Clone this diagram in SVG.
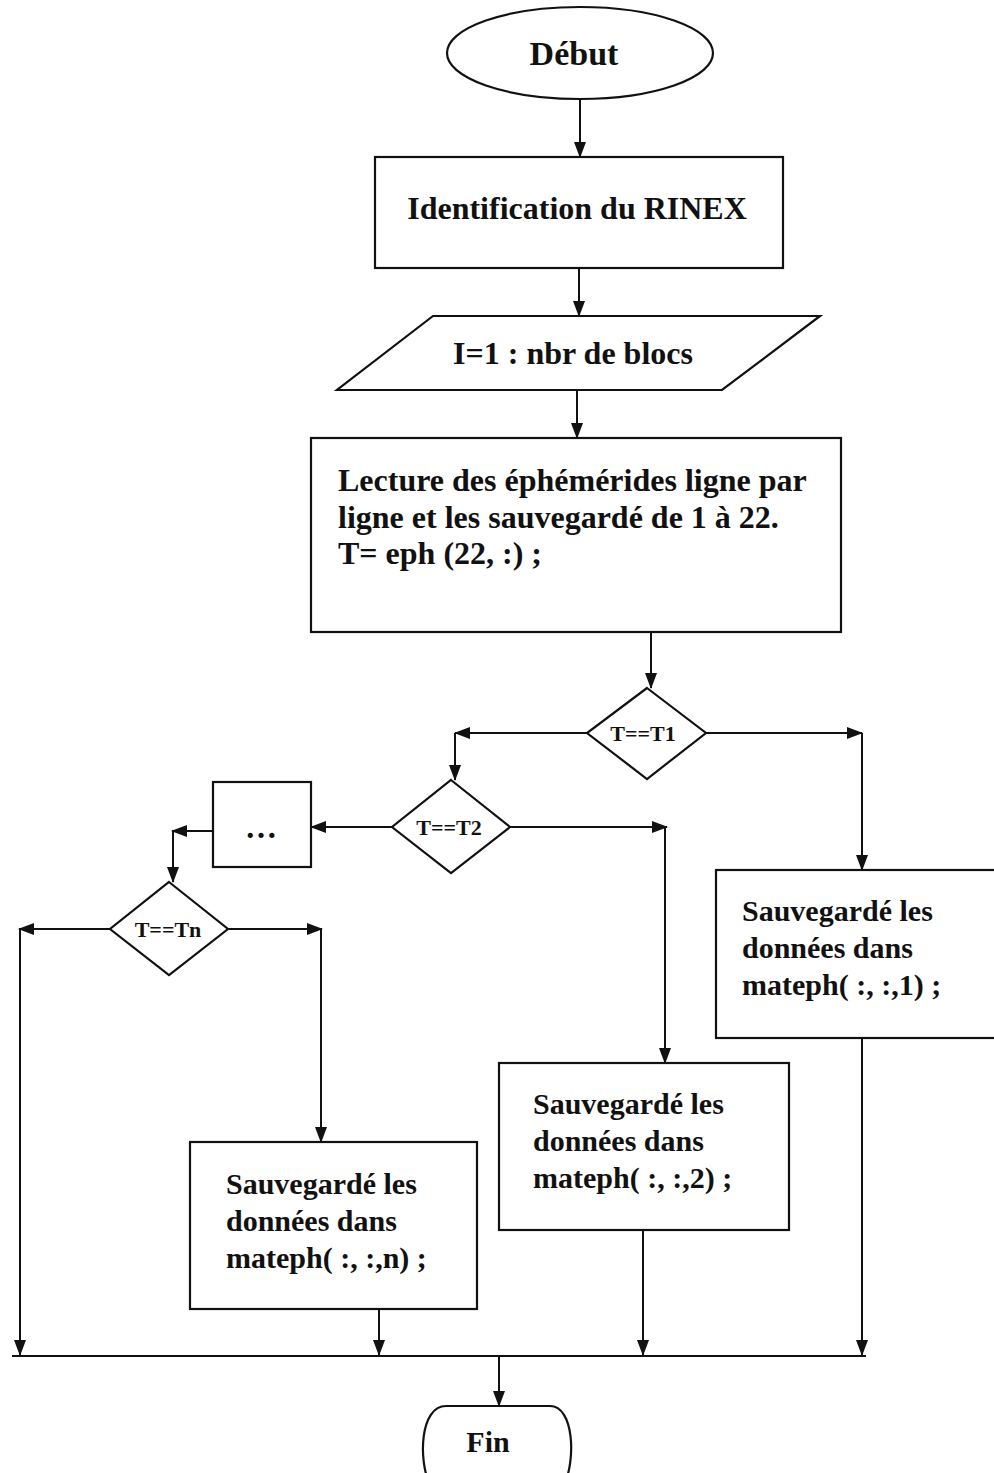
<svg xmlns="http://www.w3.org/2000/svg" width="994" height="1473" viewBox="0 0 994 1473">
<defs>
<marker id="ah" markerWidth="16" markerHeight="12" refX="15" refY="6" orient="auto" markerUnits="userSpaceOnUse">
<path d="M0,0 L16,6 L0,12 Z" fill="#111"/>
</marker>
<style>
.s{fill:#fff;stroke:#111;stroke-width:2.2}
.c{fill:none;stroke:#111;stroke-width:2}
.t{font-family:"Liberation Serif","Times New Roman",serif;font-weight:bold;fill:#111}
</style>
</defs>
<rect width="994" height="1473" fill="#fff"/>
<g id="connectors">
<path class="c" d="M580,99 V157" marker-end="url(#ah)"/>
<path class="c" d="M579,268 V316" marker-end="url(#ah)"/>
<path class="c" d="M577,390 V438" marker-end="url(#ah)"/>
<path class="c" d="M651,632 V688" marker-end="url(#ah)"/>
<path class="c" d="M587,733 H455" marker-end="url(#ah)"/>
<path class="c" d="M455,733 V780" marker-end="url(#ah)"/>
<path class="c" d="M706,733 H862" marker-end="url(#ah)"/>
<path class="c" d="M862,733 V870" marker-end="url(#ah)"/>
<path class="c" d="M510,827 H667" marker-end="url(#ah)"/>
<path class="c" d="M665,827 V1063" marker-end="url(#ah)"/>
<path class="c" d="M392,827 H311" marker-end="url(#ah)"/>
<path class="c" d="M213,831 H172" marker-end="url(#ah)"/>
<path class="c" d="M173,831 V882" marker-end="url(#ah)"/>
<path class="c" d="M110,929 H19" marker-end="url(#ah)"/>
<path class="c" d="M20,929 V1355" marker-end="url(#ah)"/>
<path class="c" d="M228,929 H322" marker-end="url(#ah)"/>
<path class="c" d="M321,929 V1142" marker-end="url(#ah)"/>
<path class="c" d="M379,1309 V1355" marker-end="url(#ah)"/>
<path class="c" d="M643,1230 V1355" marker-end="url(#ah)"/>
<path class="c" d="M862,1038 V1355" marker-end="url(#ah)"/>
<path class="c" d="M12,1356 H866"/>
<path class="c" d="M499,1356 V1406" marker-end="url(#ah)"/>
</g>
<g id="debut">
<ellipse class="s" cx="580" cy="53" rx="133" ry="46"/>
<text class="t" x="574" y="65" font-size="34" text-anchor="middle">Début</text>
</g>
<g id="identification">
<rect class="s" x="375" y="157" width="408" height="111"/>
<text class="t" x="577" y="219" font-size="32" text-anchor="middle">Identification du RINEX</text>
</g>
<g id="boucle">
<polygon class="s" points="433,316 820,316 722,390 337,390"/>
<text class="t" x="573" y="364" font-size="32" text-anchor="middle">I=1 : nbr de blocs</text>
</g>
<g id="lecture">
<rect class="s" x="311" y="438" width="530" height="194"/>
<text class="t" font-size="32"><tspan x="338" y="491">Lecture des éphémérides ligne par</tspan><tspan x="338" y="528">ligne et les sauvegardé de 1 à 22.</tspan><tspan x="338" y="564">T= eph (22, :) ;</tspan></text>
</g>
<g id="test1">
<polygon class="s" points="647,688 706,733 647,779 587,733"/>
<text class="t" x="643" y="741" font-size="22" text-anchor="middle">T==T1</text>
</g>
<g id="test2">
<polygon class="s" points="451,780 510,827 451,873 392,827"/>
<text class="t" x="449" y="835" font-size="22" text-anchor="middle">T==T2</text>
</g>
<g id="etc">
<rect class="s" x="213" y="782" width="98" height="85"/>
<text class="t" x="261" y="838" font-size="32" text-anchor="middle">…</text>
</g>
<g id="testn">
<polygon class="s" points="169,882 228,929 169,975 110,929"/>
<text class="t" x="168" y="937" font-size="22" text-anchor="middle">T==Tn</text>
</g>
<g id="sauve1">
<rect class="s" x="716" y="870" width="290" height="168"/>
<text class="t" font-size="30"><tspan x="742" y="921">Sauvegardé les</tspan><tspan x="742" y="958">données dans</tspan><tspan x="742" y="995">mateph( :, :,1) ;</tspan></text>
</g>
<g id="sauve2">
<rect class="s" x="499" y="1063" width="290" height="167"/>
<text class="t" font-size="30"><tspan x="533" y="1114">Sauvegardé les</tspan><tspan x="533" y="1151">données dans</tspan><tspan x="533" y="1188">mateph( :, :,2) ;</tspan></text>
</g>
<g id="sauven">
<rect class="s" x="190" y="1142" width="287" height="167"/>
<text class="t" font-size="30"><tspan x="226" y="1194">Sauvegardé les</tspan><tspan x="226" y="1231">données dans</tspan><tspan x="226" y="1268">mateph( :, :,n) ;</tspan></text>
</g>
<g id="fin">
<path class="s" d="M446,1406 H550 C574,1406 576,1460 564,1485 H430 C418,1460 420,1406 446,1406 Z"/>
<text class="t" x="488" y="1452" font-size="30" text-anchor="middle">Fin</text>
</g>
</svg>
